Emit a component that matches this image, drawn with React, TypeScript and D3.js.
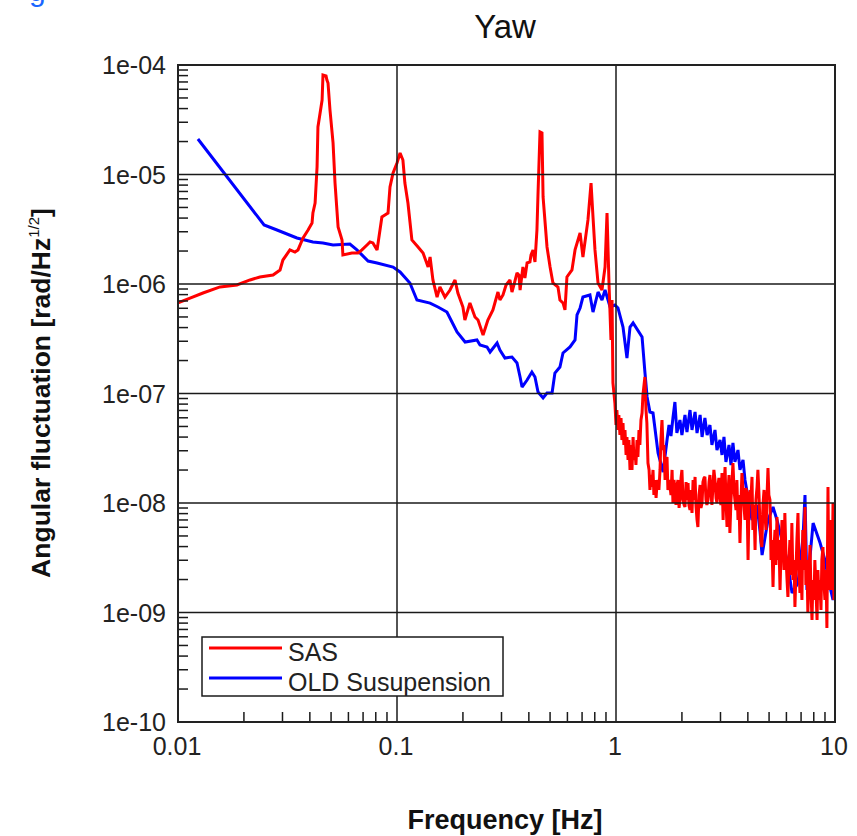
import React from "react";
import * as d3 from "d3";

// Axis ticks
const FREQ_TICKS = [0.01, 0.1, 1, 10];
const FREQ_LABELS = ["0.01", "0.1", "1", "10"];
const AMP_TICKS = [1e-4, 1e-5, 1e-6, 1e-7, 1e-8, 1e-9, 1e-10];
const AMP_LABELS = ["1e-04", "1e-05", "1e-06", "1e-07", "1e-08", "1e-09", "1e-10"];

// Spectra stored as [log10 frequency in Hz, log10 amplitude in rad/Hz^1/2]
const SAS_DECADES: [number, number][] = [
  [-2.0, -6.173], [-1.945, -6.128], [-1.886, -6.082], [-1.808, -6.027], [-1.731, -6.009],
  [-1.671, -5.963], [-1.626, -5.936], [-1.566, -5.918], [-1.534, -5.872], [-1.521, -5.781],
  [-1.489, -5.689], [-1.466, -5.708], [-1.452, -5.689], [-1.429, -5.58], [-1.406, -5.507],
  [-1.388, -5.443], [-1.384, -5.352], [-1.374, -5.26], [-1.365, -4.931], [-1.361, -4.566],
  [-1.342, -4.32], [-1.338, -4.091], [-1.324, -4.1], [-1.32, -4.137], [-1.315, -4.164],
  [-1.306, -4.411], [-1.292, -4.712], [-1.283, -5.078], [-1.269, -5.479], [-1.251, -5.598],
  [-1.247, -5.735], [-1.206, -5.717], [-1.178, -5.717], [-1.16, -5.689], [-1.137, -5.644],
  [-1.123, -5.616], [-1.11, -5.625], [-1.091, -5.689], [-1.069, -5.388], [-1.055, -5.37],
  [-1.041, -5.352], [-1.032, -5.114], [-1.018, -4.986], [-1.0, -4.895], [-0.986, -4.804],
  [-0.973, -4.868], [-0.964, -5.078], [-0.95, -5.26], [-0.932, -5.598], [-0.904, -5.662],
  [-0.881, -5.717], [-0.858, -5.845], [-0.849, -5.753], [-0.836, -5.963], [-0.817, -6.119],
  [-0.804, -6.027], [-0.781, -6.119], [-0.758, -6.055], [-0.735, -5.963], [-0.722, -6.082],
  [-0.699, -6.21], [-0.69, -6.329], [-0.667, -6.173], [-0.644, -6.301], [-0.63, -6.329],
  [-0.607, -6.466], [-0.585, -6.329], [-0.562, -6.237], [-0.539, -6.073], [-0.53, -6.146],
  [-0.516, -6.1], [-0.502, -6.009], [-0.484, -5.963], [-0.475, -6.073], [-0.466, -6.009],
  [-0.452, -5.899], [-0.443, -5.918], [-0.438, -6.055], [-0.425, -5.845], [-0.416, -5.945],
  [-0.406, -5.808], [-0.393, -5.799], [-0.388, -5.735], [-0.379, -5.689], [-0.37, -5.799],
  [-0.361, -5.507], [-0.356, -5.169],
  [-0.347, -4.612], [-0.338, -4.621], [-0.333, -5.205], [-0.315, -5.662], [-0.301, -5.845],
  [-0.288, -5.991], [-0.265, -6.027], [-0.256, -6.146], [-0.242, -6.173], [-0.233, -6.237],
  [-0.224, -5.936], [-0.201, -5.872], [-0.187, -5.689], [-0.164, -5.534], [-0.151, -5.753],
  [-0.128, -5.415], [-0.114, -5.078], [-0.105, -5.388], [-0.096, -5.689], [-0.082, -5.991],
  [-0.064, -6.055], [-0.05, -5.845], [-0.041, -5.352], [-0.032, -5.991], [-0.023, -6.511],
  [-0.018, -6.146], [-0.014, -6.904],
  [-0.005, -7.087], [0.0, -7.288], [0.004, -7.151], [0.009, -7.333], [0.013, -7.196],
  [0.018, -7.379], [0.023, -7.224], [0.027, -7.425], [0.032, -7.269], [0.036, -7.47],
  [0.041, -7.333], [0.046, -7.561], [0.05, -7.397], [0.055, -7.607], [0.059, -7.425],
  [0.064, -7.698], [0.068, -7.47], [0.073, -7.698], [0.078, -7.397], [0.082, -7.607],
  [0.087, -7.516], [0.091, -7.653], [0.096, -7.425], [0.1, -7.58], [0.105, -7.333],
  [0.109, -7.47], [0.114, -7.242], [0.119, -7.178], [0.123, -7.014], [0.128, -6.922],
  [0.132, -6.849], [0.137, -7.151], [0.141, -7.269], [0.146, -7.635],
  [0.151, -7.698], [0.155, -7.881], [0.16, -7.744], [0.164, -7.854], [0.169, -7.698],
  [0.173, -7.927], [0.178, -7.79], [0.183, -7.954], [0.187, -7.835], [0.192, -7.79],
  [0.196, -7.881],
  [0.201, -7.698], [0.205, -7.425], [0.21, -7.242], [0.215, -7.516], [0.219, -7.47],
  [0.224, -7.79], [0.228, -7.607], [0.233, -7.58], [0.237, -7.881], [0.242, -7.79],
  [0.247, -7.854], [0.251, -7.927], [0.256, -7.698], [0.26, -8.0], [0.265, -7.79],
  [0.269, -7.881], [0.274, -8.018], [0.279, -7.835], [0.283, -7.79], [0.288, -8.045],
  [0.292, -7.972], [0.297, -7.771], [0.301, -7.698], [0.306, -7.972], [0.311, -8.018],
  [0.315, -8.036], [0.32, -7.808], [0.324, -7.972], [0.329, -7.817], [0.333, -8.018],
  [0.338, -8.064], [0.342, -7.881], [0.347, -8.091], [0.352, -7.79], [0.356, -7.972],
  [0.361, -7.762], [0.365, -8.018], [0.37, -8.155], [0.374, -8.219], [0.379, -7.927],
  [0.384, -7.835], [0.388, -8.045], [0.393, -8.0], [0.397, -7.808], [0.402, -7.771],
  [0.406, -7.762], [0.411, -7.972], [0.415, -8.018], [0.42, -7.972], [0.425, -7.808],
  [0.429, -7.744], [0.434, -7.927], [0.438, -8.018], [0.443, -7.835], [0.447, -7.698],
  [0.452, -7.79], [0.457, -7.954], [0.461, -8.0], [0.466, -7.835], [0.47, -7.771],
  [0.475, -7.945], [0.479, -8.018], [0.484, -7.726], [0.489, -8.155], [0.493, -7.881],
  [0.498, -7.671], [0.502, -7.972], [0.507, -8.219], [0.511, -7.927], [0.516, -7.744],
  [0.52, -8.274], [0.525, -7.972], [0.53, -7.79], [0.534, -7.635], [0.539, -7.881],
  [0.543, -7.972], [0.548, -8.064], [0.552, -7.79], [0.557, -8.155], [0.561, -7.927],
  [0.566, -8.365], [0.571, -7.972], [0.575, -7.726], [0.58, -7.881], [0.584, -8.018],
  [0.589, -8.155], [0.593, -7.863], [0.598, -7.909], [0.603, -8.52], [0.607, -8.064],
  [0.612, -7.881], [0.616, -7.972], [0.621, -7.762], [0.625, -8.246], [0.63, -8.018],
  [0.635, -8.429], [0.639, -7.972], [0.644, -7.854], [0.648, -7.698], [0.653, -7.927],
  [0.657, -8.155], [0.662, -8.338], [0.666, -8.402], [0.671, -8.018], [0.676, -7.881],
  [0.68, -8.109], [0.685, -8.246], [0.689, -7.972], [0.694, -7.68], [0.698, -7.927],
  [0.703, -7.972], [0.708, -8.52], [0.712, -8.338], [0.717, -8.767], [0.721, -8.429],
  [0.726, -8.246], [0.73, -8.566], [0.735, -8.128], [0.74, -8.52], [0.744, -8.338],
  [0.749, -8.794], [0.753, -8.475], [0.758, -8.155], [0.762, -8.274], [0.767, -8.612],
  [0.771, -8.091], [0.776, -8.475], [0.781, -8.703], [0.785, -8.858], [0.79, -8.52],
  [0.794, -8.338], [0.799, -8.657], [0.803, -8.182], [0.808, -8.703], [0.813, -8.52],
  [0.817, -8.95], [0.822, -8.612], [0.826, -8.338], [0.831, -8.091], [0.835, -8.566],
  [0.84, -8.822], [0.844, -8.52], [0.849, -8.886], [0.853, -8.246], [0.858, -8.612],
  [0.863, -8.036], [0.867, -8.749], [0.872, -8.52], [0.876, -9.004], [0.881, -8.657],
  [0.886, -8.383], [0.89, -8.794], [0.895, -9.068], [0.899, -8.703], [0.904, -8.886],
  [0.908, -8.52], [0.913, -8.794], [0.918, -9.068], [0.922, -8.612], [0.927, -8.886],
  [0.931, -8.703], [0.936, -8.977], [0.94, -8.52], [0.945, -8.402], [0.95, -8.749],
  [0.954, -8.886], [0.959, -8.612], [0.963, -9.141], [0.968, -7.854], [0.972, -8.794],
  [0.977, -8.676], [0.981, -8.155], [0.986, -8.794], [0.991, -8.0], [0.995, -8.886],
  [1.0, -8.703],
];

const OLD_DECADES: [number, number][] = [
  [-1.909, -4.676], [-1.607, -5.461], [-1.548, -5.507], [-1.457, -5.58], [-1.384, -5.616],
  [-1.338, -5.626], [-1.292, -5.644], [-1.215, -5.635], [-1.183, -5.689], [-1.132, -5.79],
  [-1.091, -5.808], [-1.018, -5.845], [-0.986, -5.89], [-0.941, -5.991], [-0.909, -6.146],
  [-0.849, -6.174], [-0.813, -6.21], [-0.772, -6.256], [-0.749, -6.347], [-0.726, -6.438],
  [-0.689, -6.53], [-0.635, -6.511], [-0.621, -6.557], [-0.589, -6.575], [-0.575, -6.621],
  [-0.543, -6.539], [-0.53, -6.603], [-0.507, -6.676], [-0.475, -6.667], [-0.452, -6.721],
  [-0.438, -6.849], [-0.429, -6.941], [-0.406, -6.877], [-0.384, -6.804], [-0.37, -6.849],
  [-0.356, -6.986], [-0.333, -7.041], [-0.315, -6.995], [-0.292, -6.995], [-0.279, -6.813],
  [-0.256, -6.758], [-0.242, -6.63], [-0.21, -6.575], [-0.187, -6.511], [-0.178, -6.283],
  [-0.164, -6.219], [-0.151, -6.119], [-0.119, -6.1], [-0.105, -6.256], [-0.082, -6.073],
  [-0.064, -6.146], [-0.05, -6.055], [-0.027, -6.21], [-0.005, -6.192], [0.009, -6.219],
  [0.032, -6.393], [0.05, -6.676], [0.064, -6.393], [0.078, -6.356], [0.119, -6.484],
  [0.132, -6.804], [0.142, -7.032], [0.155, -7.169], [0.169, -7.178], [0.192, -7.543],
  [0.215, -7.717], [0.233, -7.425], [0.242, -7.288], [0.251, -7.388], [0.26, -7.224],
  [0.269, -7.078], [0.278, -7.361], [0.292, -7.242], [0.301, -7.379], [0.315, -7.196],
  [0.324, -7.352], [0.338, -7.151], [0.347, -7.333], [0.361, -7.169], [0.37, -7.361],
  [0.384, -7.196], [0.393, -7.397], [0.406, -7.224], [0.416, -7.379], [0.429, -7.288],
  [0.438, -7.47], [0.452, -7.333], [0.461, -7.516], [0.475, -7.425], [0.484, -7.561],
  [0.493, -7.397], [0.502, -7.625], [0.516, -7.47], [0.525, -7.653], [0.534, -7.452],
  [0.543, -7.625], [0.557, -7.516], [0.566, -7.698], [0.58, -7.607], [0.589, -7.79],
  [0.621, -8.155], [0.644, -8.018], [0.658, -8.265], [0.667, -8.475], [0.694, -8.155],
  [0.717, -8.037], [0.735, -8.155], [0.758, -8.338], [0.781, -8.521], [0.804, -8.822],
  [0.831, -8.731], [0.854, -8.311], [0.863, -7.927], [0.872, -8.795], [0.9, -8.183],
  [0.932, -8.365], [0.954, -8.521], [0.977, -8.767], [0.991, -8.886], [1.0, -8.703],
];

type Pt = { f: number; a: number };
const toPoints = (rows: [number, number][]): Pt[] =>
  rows.map(([lf, la]) => ({ f: Math.pow(10, lf), a: Math.pow(10, la) }));

const SERIES = [
  { name: "OLD Susupension", color: "#0000ff", data: toPoints(OLD_DECADES) },
  { name: "SAS", color: "#ff0000", data: toPoints(SAS_DECADES) },
];
const LEGEND_ORDER = ["SAS", "OLD Susupension"];

const W = 857;
const H = 836;
const M = { left: 178, right: 835, top: 65, bottom: 722 };
const FONT = "'Liberation Sans', Arial, Helvetica, sans-serif";

export default function App() {
  const x = d3.scaleLog().domain([0.01, 10]).range([M.left, M.right]);
  const y = d3.scaleLog().domain([1e-10, 1e-4]).range([M.bottom, M.top]);
  const line = d3
    .line<Pt>()
    .x((d) => x(d.f))
    .y((d) => y(d.a));

  const minorX: number[] = [];
  for (let e = -2; e < 1; e++) for (let m = 2; m <= 9; m++) minorX.push(m * Math.pow(10, e));
  const minorY: number[] = [];
  for (let e = -10; e < -4; e++) for (let m = 2; m <= 9; m++) minorY.push(m * Math.pow(10, e));

  const legendX = 202;
  const legendY = 637;

  return (
    <svg
      width={W}
      height={H}
      style={{ position: "absolute", left: 0, top: 0, background: "#fff" }}
      fontFamily={FONT}
    >
      <defs>
        <clipPath id="plot-clip">
          <rect x={M.left} y={M.top} width={M.right - M.left} height={M.bottom - M.top} />
        </clipPath>
      </defs>
      <rect x={0} y={0} width={W} height={H} fill="#fff" />

      {/* caption fragment at the top edge */}
      <text x={29} y={1} fontSize={30} fill="#1a66ff">
        g
      </text>

      <text x={505} y={38} fontSize={33} textAnchor="middle" fill="#111">
        Yaw
      </text>

      {/* data */}
      <g clipPath="url(#plot-clip)">
        {SERIES.map((s) => (
          <path
            key={s.name}
            d={line(s.data) || ""}
            fill="none"
            stroke={s.color}
            strokeWidth={3}
            strokeLinejoin="miter"
            strokeMiterlimit={2}
          />
        ))}
      </g>

      {/* grid at decades */}
      <g stroke="#1a1a1a" strokeWidth={1.5}>
        {FREQ_TICKS.slice(1, -1).map((t) => (
          <line key={"gx" + t} x1={x(t)} x2={x(t)} y1={M.top} y2={M.bottom} />
        ))}
        {AMP_TICKS.slice(1, -1).map((t) => (
          <line key={"gy" + t} x1={M.left} x2={M.right} y1={y(t)} y2={y(t)} />
        ))}
      </g>

      {/* minor ticks, inward on left and bottom */}
      <g stroke="#1a1a1a" strokeWidth={1.5}>
        {minorX.map((t) => (
          <line key={"mx" + t} x1={x(t)} x2={x(t)} y1={M.bottom} y2={M.bottom - 10} />
        ))}
        {minorY.map((t) => (
          <line key={"my" + t} x1={M.left} x2={M.left + 10} y1={y(t)} y2={y(t)} />
        ))}
      </g>

      <rect
        x={M.left}
        y={M.top}
        width={M.right - M.left}
        height={M.bottom - M.top}
        fill="none"
        stroke="#222"
        strokeWidth={2}
      />

      {/* tick labels */}
      <g fontSize={25} fill="#222">
        {FREQ_TICKS.map((t, i) => (
          <text key={"lx" + t} x={x(t) - 1} y={755} textAnchor="middle">
            {FREQ_LABELS[i]}
          </text>
        ))}
        {AMP_TICKS.map((t, i) => (
          <text key={"ly" + t} x={166} y={y(t) + 9} textAnchor="end">
            {AMP_LABELS[i]}
          </text>
        ))}
      </g>

      {/* axis titles */}
      <text x={505} y={829} fontSize={27} fontWeight="bold" textAnchor="middle" fill="#111">
        Frequency [Hz]
      </text>
      <text
        transform="translate(50,393) rotate(-90)"
        fontSize={26.5}
        fontWeight="bold"
        textAnchor="middle"
        fill="#111"
      >
        Angular fluctuation [rad/Hz
        <tspan fontSize={15} fontWeight="normal" dy={-11}>
          1/2
        </tspan>
        <tspan dy={11}>]</tspan>
      </text>

      {/* legend */}
      <g>
        <rect
          x={legendX}
          y={legendY}
          width={301}
          height={59}
          fill="#fff"
          stroke="#1a1a1a"
          strokeWidth={1.5}
        />
        {LEGEND_ORDER.map((name, i) => {
          const s = SERIES.find((d) => d.name === name)!;
          const ly = legendY + 11 + i * 30;
          return (
            <g key={name}>
              <line x1={legendX + 7} x2={legendX + 80} y1={ly} y2={ly} stroke={s.color} strokeWidth={3} />
              <text x={legendX + 86} y={ly + 13} fontSize={25} fill="#222">
                {name}
              </text>
            </g>
          );
        })}
      </g>
    </svg>
  );
}
